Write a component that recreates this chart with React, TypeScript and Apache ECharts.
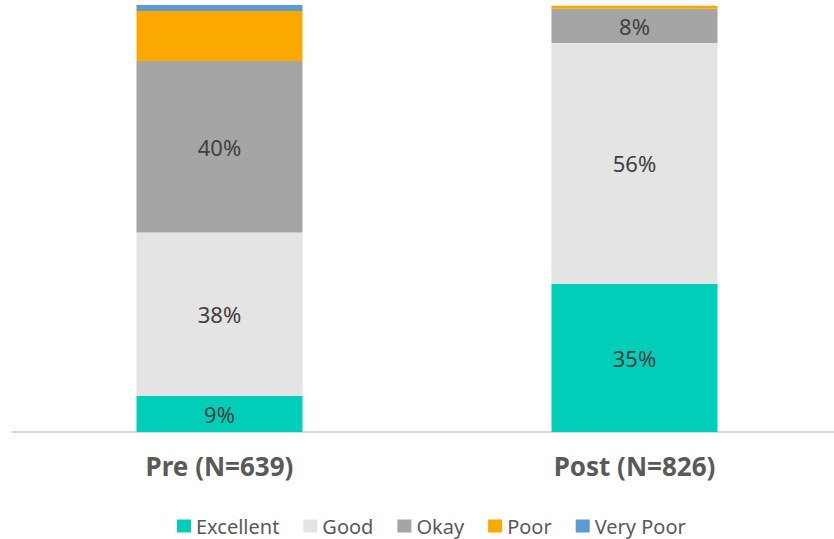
import React, { useEffect, useRef } from "react";
import * as echarts from "echarts";

const categories = ["Pre (N=639)", "Post (N=826)"];
const excellent = [8.5, 34.7];
const good = [38.2, 56.4];
const okay = [40.2, 8.0];
const poor = [11.7, 0.7];
const veryPoor = [1.4, 0];

const seriesDefs = [
  { name: "Excellent", data: excellent, color: "#00CEB9", label: true },
  { name: "Good", data: good, color: "#E4E4E4", label: true },
  { name: "Okay", data: okay, color: "#A5A5A5", label: true },
  { name: "Poor", data: poor, color: "#FBA800", label: false },
  { name: "Very Poor", data: veryPoor, color: "#5B9BD5", label: false },
];

const FONT = "'Noto Sans', sans-serif";

export default function App() {
  const ref = useRef<HTMLDivElement>(null);
  useEffect(() => {
    if (!ref.current) return;
    const chart = echarts.init(ref.current, undefined, { renderer: "svg" });
    chart.setOption({
      animation: false,
      grid: { left: 12, right: 8, top: 5, bottom: 107, containLabel: false },
      legend: {
        top: 511,
        left: 172,
        itemWidth: 14,
        itemHeight: 13,
        itemGap: 24,
        icon: "rect",
        textStyle: { fontFamily: FONT, fontSize: 20, color: "#595959" },
        data: seriesDefs.map((s) => s.name),
      },
      xAxis: {
        type: "category",
        data: categories,
        axisLine: { lineStyle: { color: "#D9D9D9", width: 2 } },
        axisTick: { show: false },
        axisLabel: {
          fontFamily: FONT,
          fontSize: 26,
          fontWeight: "bold",
          color: "#595959",
          margin: 21,
        },
      },
      yAxis: {
        type: "value",
        min: 0,
        max: 100,
        show: false,
        splitLine: { show: false },
      },
      series: seriesDefs.map((s) => ({
        name: s.name,
        type: "bar",
        stack: "total",
        barWidth: "40%",
        data: s.data,
        itemStyle: { color: s.color },
        label: {
          show: s.label,
          position: "inside",
          fontFamily: FONT,
          fontSize: 22,
          color: "#404040",
          formatter: (p: any) => Math.round(p.value) + "%",
        },
      })),
    });
    return () => chart.dispose();
  }, []);
  return (
    <div
      style={{
        position: "absolute",
        left: 0,
        top: 0,
        width: 834,
        height: 539,
        overflow: "hidden",
      }}
    >
      <div ref={ref} style={{ width: 850, height: 539 }} />
    </div>
  );
}
